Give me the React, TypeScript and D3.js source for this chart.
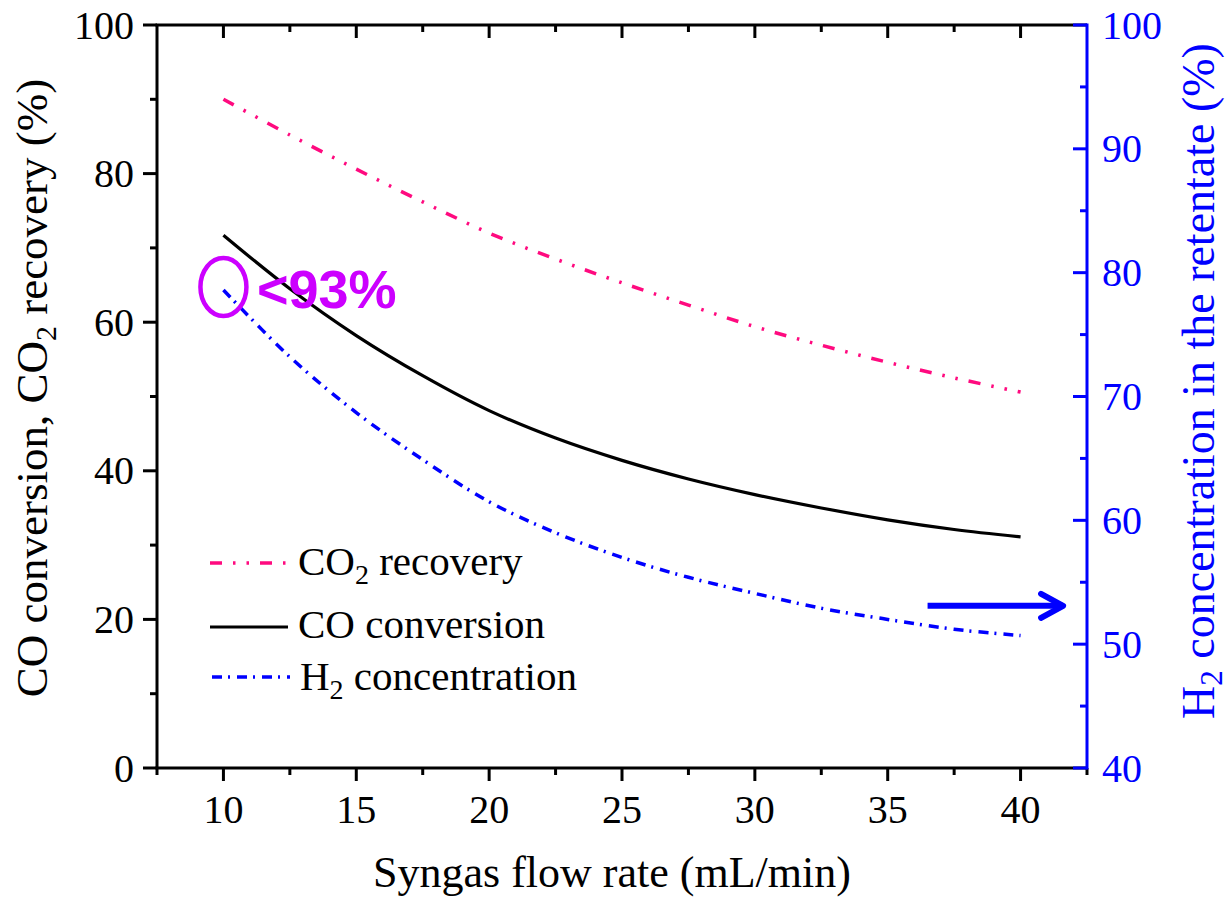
import React from "react";
import * as d3 from "d3";

const flowRate = [10, 12.5, 15, 17.5, 20, 22.5, 25, 27.5, 30, 32.5, 35, 37.5, 40];
const co2Recovery = [90.0, 85.2, 80.6, 76.2, 72.0, 68.5, 65.3, 62.3, 59.4, 56.9, 54.6, 52.5, 50.6];
const coConversion = [71.7, 64.5, 58.2, 52.8, 48.1, 44.4, 41.4, 38.9, 36.8, 35.0, 33.4, 32.1, 31.1];
const h2Concentration = [78.6, 73.2, 68.7, 64.9, 61.5, 59.0, 57.0, 55.4, 54.1, 52.9, 52.0, 51.2, 50.7];

const xMajorTicks = [10, 15, 20, 25, 30, 35, 40];
const xMinorTicks = [7.5, 12.5, 17.5, 22.5, 27.5, 32.5, 37.5, 42.5];
const yLeftMajor = [0, 20, 40, 60, 80, 100];
const yLeftMinor = [10, 30, 50, 70, 90];
const yRightMajor = [40, 50, 60, 70, 80, 90, 100];
const yRightMinor = [45, 55, 65, 75, 85, 95];

const SERIF = "Liberation Serif";
const SANS = "Liberation Sans";
const BLUE = "#0000FF";
const PINK = "#FF0A7F";
const MAGENTA = "#CC00FF";

const L = 157, R = 1087, T = 25, B = 768;

const serif = (size: number): React.CSSProperties => ({ fontFamily: SERIF, fontSize: size });

export default function App() {
  const x = d3.scaleLinear().domain([7.5, 42.5]).range([L, R]);
  const yL = d3.scaleLinear().domain([0, 100]).range([B, T]);
  const yR = d3.scaleLinear().domain([40, 100]).range([B, T]);

  const mk = (vals: number[], ys: d3.ScaleLinear<number, number>) =>
    d3.line<number>()
      .x((_, i) => x(flowRate[i]))
      .y((v) => ys(v))
      .curve(d3.curveCatmullRom.alpha(0.5))(vals) || "";

  const pinkDash = "12 11 2.5 11 2.5 11";
  const blueDash = "10 6 2 7";

  return (
    <svg width={1228} height={898} style={{ position: "absolute", left: 0, top: 0, background: "#fff" }}>
      <rect x={0} y={0} width={1228} height={898} fill="#fff" />
      {/* curves */}
      <path d={mk(co2Recovery, yL)} fill="none" stroke={PINK} strokeWidth={3.5} strokeDasharray={pinkDash} />
      <path d={mk(coConversion, yL)} fill="none" stroke="#000" strokeWidth={3.2} />
      <path d={mk(h2Concentration, yR)} fill="none" stroke={BLUE} strokeWidth={3.5} strokeDasharray={blueDash} />

      {/* frame: left, top, bottom */}
      <line x1={L} x2={L} y1={T} y2={B} stroke="#000" strokeWidth={3} />
      <line x1={L - 1.5} x2={R} y1={T} y2={T} stroke="#000" strokeWidth={3} />
      <line x1={L - 1.5} x2={R} y1={B} y2={B} stroke="#000" strokeWidth={3} />

      {/* bottom ticks (outward) */}
      {xMajorTicks.map((t) => (
        <line key={"bM" + t} x1={x(t)} x2={x(t)} y1={B} y2={B + 13} stroke="#000" strokeWidth={3} />
      ))}
      {xMinorTicks.map((t) => (
        <line key={"bm" + t} x1={x(t)} x2={x(t)} y1={B} y2={B + 7} stroke="#000" strokeWidth={3} />
      ))}
      {/* top ticks (inward) */}
      {xMajorTicks.map((t) => (
        <line key={"tM" + t} x1={x(t)} x2={x(t)} y1={T} y2={T + 13} stroke="#000" strokeWidth={3} />
      ))}
      {xMinorTicks.filter((t) => t > 8 && t < 42).map((t) => (
        <line key={"tm" + t} x1={x(t)} x2={x(t)} y1={T} y2={T + 7} stroke="#000" strokeWidth={3} />
      ))}
      {xMajorTicks.map((t) => (
        <text key={"bl" + t} x={x(t)} y={823} textAnchor="middle" style={serif(40)} fill="#000">
          {t}
        </text>
      ))}

      {/* left axis ticks */}
      {yLeftMajor.map((t) => (
        <line key={"lM" + t} x1={L - 14} x2={L} y1={yL(t)} y2={yL(t)} stroke="#000" strokeWidth={3} />
      ))}
      {yLeftMinor.map((t) => (
        <line key={"lm" + t} x1={L - 7} x2={L} y1={yL(t)} y2={yL(t)} stroke="#000" strokeWidth={3} />
      ))}
      {yLeftMajor.map((t) => (
        <text key={"ll" + t} x={134} y={yL(t)} dy="0.34em" textAnchor="end" style={serif(40)} fill="#000">
          {t}
        </text>
      ))}

      {/* right axis (blue) */}
      <line x1={R} x2={R} y1={T - 1.5} y2={B + 1.5} stroke={BLUE} strokeWidth={3} />
      {yRightMajor.map((t) => (
        <line key={"rM" + t} x1={R - 14} x2={R} y1={yR(t)} y2={yR(t)} stroke={BLUE} strokeWidth={3} />
      ))}
      {yRightMinor.map((t) => (
        <line key={"rm" + t} x1={R - 7} x2={R} y1={yR(t)} y2={yR(t)} stroke={BLUE} strokeWidth={3} />
      ))}
      {yRightMajor.map((t) => (
        <text key={"rl" + t} x={1102} y={yR(t)} dy="0.34em" textAnchor="start" style={serif(40)} fill={BLUE}>
          {t}
        </text>
      ))}

      {/* axis titles */}
      <text x={612} y={887} textAnchor="middle" style={serif(44)} fill="#000">
        Syngas flow rate (mL/min)
      </text>
      <text transform="translate(47,388) rotate(-90)" textAnchor="middle" style={serif(45)} fill="#000">
        CO conversion, CO<tspan style={{ fontSize: 30 }} dy={9}>2</tspan>
        <tspan dy={-9}> recovery (%)</tspan>
      </text>
      <text transform="translate(1214,381) rotate(-90)" textAnchor="middle" style={serif(46)} fill={BLUE}>
        H<tspan style={{ fontSize: 31 }} dy={8}>2</tspan>
        <tspan dy={-8}> concentration in the retentate (%)</tspan>
      </text>

      {/* legend */}
      <line x1={210} x2={288} y1={563} y2={563} stroke={PINK} strokeWidth={3.5} strokeDasharray={pinkDash} />
      <text x={298} y={575} style={serif(41)} fill="#000">
        CO<tspan style={{ fontSize: 28 }} dy={9}>2</tspan>
        <tspan dy={-9}> recovery</tspan>
      </text>
      <line x1={210} x2={288} y1={627} y2={627} stroke="#000" strokeWidth={3.2} />
      <text x={298} y={638} style={serif(41)} fill="#000">
        CO conversion
      </text>
      <line x1={212} x2={290} y1={677} y2={677} stroke={BLUE} strokeWidth={3.5} strokeDasharray={blueDash} />
      <text x={300} y={690} style={serif(41)} fill="#000">
        H<tspan style={{ fontSize: 28 }} dy={9}>2</tspan>
        <tspan dy={-9}> concentration</tspan>
      </text>

      {/* annotation */}
      <ellipse cx={x(10)} cy={yR(78.6) - 3} rx={23} ry={29} fill="none" stroke={MAGENTA} strokeWidth={4.5} />
      <text x={257} y={308} style={{ fontFamily: SANS, fontWeight: "bold", fontSize: 54 }} fill={MAGENTA}>
        &lt;93%
      </text>

      {/* arrow pointing to right axis */}
      <line x1={x(36.5)} x2={x(41.6)} y1={yR(53.1)} y2={yR(53.1)} stroke={BLUE} strokeWidth={6} />
      <polyline
        points={`${x(41.6) - 22},${yR(53.1) - 12} ${x(41.6)},${yR(53.1)} ${x(41.6) - 22},${yR(53.1) + 12}`}
        fill="none"
        stroke={BLUE}
        strokeWidth={6}
        strokeLinecap="round"
        strokeLinejoin="round"
      />
    </svg>
  );
}
